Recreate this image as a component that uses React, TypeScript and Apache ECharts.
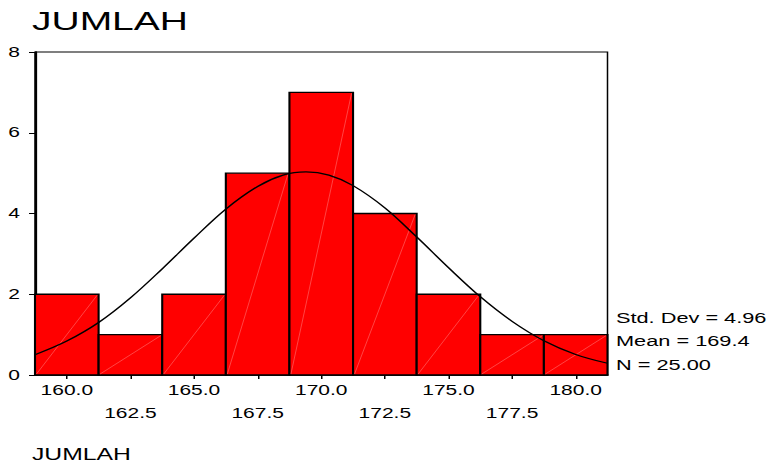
import React, { useEffect, useRef } from "react";
import * as echarts from "echarts";

// Histogram bins (bin centres) and frequencies
const binLabels = ["160.0", "162.5", "165.0", "167.5", "170.0", "172.5", "175.0", "177.5", "180.0"];
const counts = [2, 1, 2, 5, 7, 4, 2, 1, 1];
const yTicks = [0, 2, 4, 6, 8];

// Normal curve (x, frequency)
const curveX = [158.75, 160, 161.25, 162.5, 163.75, 165, 166.25, 167.5, 168.5, 169.4, 170.3, 171.25, 172.5, 173.75, 175, 176.25, 177.5, 178.75, 180, 181.25];
const curveY = [0.5, 0.84, 1.3, 1.91, 2.63, 3.39, 4.11, 4.67, 4.95, 5.03, 4.95, 4.69, 4.14, 3.42, 2.66, 1.94, 1.33, 0.85, 0.51, 0.29];

const statLines = ["Std. Dev = 4.96", "Mean = 169.4", "N = 25.00"];
const titleText = "JUMLAH";
const axisTitle = "JUMLAH";

const S = 1.5; // horizontal stretch of the original rendering
const W = 770 / S;
const FONT = "Arial, 'Liberation Sans', sans-serif";

export default function App() {
  const ref = useRef<HTMLDivElement>(null);
  useEffect(() => {
    if (!ref.current) return;
    const chart = echarts.init(ref.current, undefined, { renderer: "svg" });
    const plotLeft = 35 / S;
    const plotRight = 608 / S;
    const labelStyle = { color: "#000", fontFamily: FONT, fontSize: 14 };
    chart.setOption({
      animation: false,
      backgroundColor: "#fff",
      title: [
        {
          text: titleText,
          left: 32 / S,
          top: 8,
          padding: 0,
          textStyle: { color: "#000", fontFamily: FONT, fontSize: 26, fontWeight: "normal" },
        },
        {
          text: axisTitle,
          left: 32 / S,
          top: 446,
          padding: 0,
          textStyle: { color: "#000", fontFamily: FONT, fontSize: 16.5, fontWeight: "normal" },
        },
      ],
      grid: {
        left: plotLeft,
        right: W - plotRight,
        top: 52,
        bottom: 466 - 375,
        show: true,
        borderColor: "#000",
        borderWidth: 1,
        backgroundColor: "transparent",
      },
      xAxis: [
        {
          type: "category",
          data: binLabels,
          position: "bottom",
          boundaryGap: true,
          axisLine: { show: true, lineStyle: { color: "#000", width: 1.5 } },
          axisTick: { show: true, alignWithLabel: true, interval: 0, length: 4, lineStyle: { color: "#000" } },
          axisLabel: { ...labelStyle, margin: 8, interval: (i: number) => i % 2 === 0 },
          splitLine: { show: false },
        },
        {
          type: "category",
          data: binLabels,
          position: "bottom",
          boundaryGap: true,
          axisLine: { show: false },
          axisTick: { show: false },
          axisLabel: { ...labelStyle, margin: 31, interval: (i: number) => i % 2 === 1 },
          splitLine: { show: false },
        },
        {
          type: "value",
          min: 158.75,
          max: 181.25,
          show: false,
        },
      ],
      yAxis: {
        type: "value",
        min: yTicks[0],
        max: yTicks[yTicks.length - 1],
        interval: 2,
        axisLine: { show: true, lineStyle: { color: "#000", width: 1.5 } },
        axisTick: { show: true, length: 4, lineStyle: { color: "#000" } },
        axisLabel: { ...labelStyle, margin: 10 },
        splitLine: { show: false },
      },
      graphic: statLines.map((t, i) => ({
        type: "text",
        left: 616 / S,
        top: 318 + i * 23.5 - 8,
        style: { text: t, fill: "#000", font: `14.5px ${FONT}` },
      })),
      series: [
        {
          type: "custom",
          xAxisIndex: 0,
          yAxisIndex: 0,
          data: counts.map((c, i) => [i, c]),
          encode: { x: 0, y: 1 },
          renderItem: (params: any, api: any) => {
            const idx = api.value(0);
            const val = api.value(1);
            const p0 = api.coord([idx, 0]);
            const p1 = api.coord([idx, val]);
            const w = api.size([1, 0])[0];
            const x0 = p0[0] - w / 2;
            return {
              type: "group",
              children: [
                {
                  type: "rect",
                  shape: { x: x0, y: p1[1], width: w, height: p0[1] - p1[1] },
                  style: { fill: "#ff0000", stroke: "#000", lineWidth: 1.4 },
                },
                {
                  type: "line",
                  shape: { x1: x0 + 1, y1: p0[1] - 1, x2: x0 + w - 1, y2: p1[1] + 1 },
                  style: { stroke: "rgba(255,170,170,0.8)", lineWidth: 0.4 },
                },
              ],
            };
          },
          z: 2,
        },
        {
          type: "line",
          xAxisIndex: 2,
          yAxisIndex: 0,
          data: curveX.map((x, i) => [x, curveY[i]]),
          smooth: 0.35,
          symbol: "none",
          lineStyle: { color: "#000", width: 1.2 },
          z: 3,
        },
      ],
    });
    return () => chart.dispose();
  }, []);
  return (
    <div style={{ position: "absolute", left: 0, top: 0, width: 770, height: 466, overflow: "hidden", background: "#fff" }}>
      <div ref={ref} style={{ width: W, height: 466, transform: `scaleX(${S})`, transformOrigin: "0 0" }} />
    </div>
  );
}
